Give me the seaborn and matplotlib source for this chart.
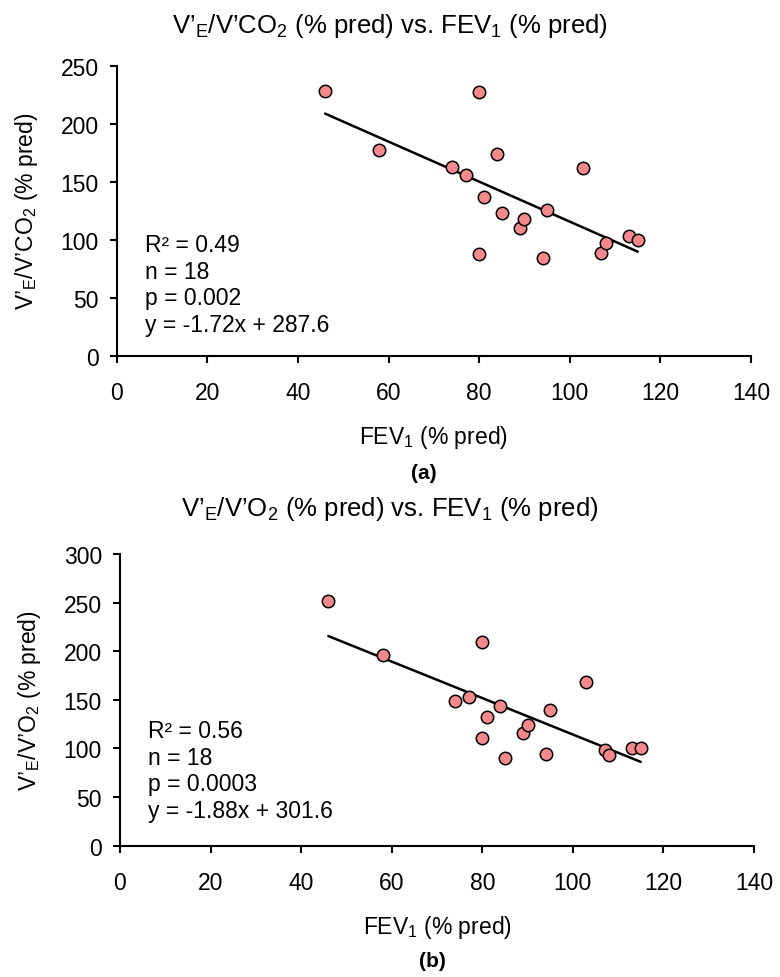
import matplotlib
matplotlib.use("Agg")
import matplotlib.pyplot as plt
import seaborn as sns
import pandas as pd

# ---- data ----
fev1 = [46, 58, 74, 77, 80, 80, 81, 84, 85, 89, 90, 94, 95, 103, 107, 108, 113, 115]
ve_vco2 = [228, 177, 163, 156, 227, 88, 137, 174, 123, 110, 117.5, 84, 126, 162, 88.5, 97.5, 103, 100]
ve_vo2 = [252, 196.6, 148.6, 153.4, 210, 110.7, 132.8, 144, 89.7, 116.2, 123.8, 94.5, 140, 168.6, 98, 93.1, 100.3, 100.3]

x_ticks = [0, 20, 40, 60, 80, 100, 120, 140]
y_ticks_a = [0, 50, 100, 150, 200, 250]
y_ticks_b = [0, 50, 100, 150, 200, 250, 300]

title_a = "V’$\\mathregular{_E}$/V’CO$\\mathregular{_2}$ (% pred) vs. FEV$\\mathregular{_1}$ (% pred)"
title_b = "V’$\\mathregular{_E}$/V’O$\\mathregular{_2}$ (% pred) vs. FEV$\\mathregular{_1}$ (% pred)"
ylabel_a = "V’$\\mathregular{_E}$/V’CO$\\mathregular{_2}$ (% pred)"
ylabel_b = "V’$\\mathregular{_E}$/V’O$\\mathregular{_2}$ (% pred)"
xlabel = "FEV$\\mathregular{_1}$ (% pred)"
stats_a = ["R² = 0.49", "n = 18", "p = 0.002", "y = -1.72x + 287.6"]
stats_b = ["R² = 0.56", "n = 18", "p = 0.0003", "y = -1.88x + 301.6"]
panel_a = "(a)"
panel_b = "(b)"

df = pd.DataFrame({"fev1": fev1, "vco2": ve_vco2, "vo2": ve_vo2})

sns.set_theme(style="white")
plt.rcParams["font.family"] = ["Liberation Sans", "DejaVu Sans"]
plt.rcParams["mathtext.fontset"] = "custom"
plt.rcParams["mathtext.rm"] = "Liberation Sans"

W, H = 780, 978
fig = plt.figure(figsize=(W / 100, H / 100), dpi=100)

def fx(px):
    return px / W

def fy(py):
    return 1 - py / H

ax_a = fig.add_axes([fx(116.7), fy(356.7), fx(751 - 116.7), (356.7 - 66.7) / H])
ax_b = fig.add_axes([fx(120), fy(846.7), fx(754 - 120), (846.7 - 555) / H])

marker_color = "#F4898B"
TICK_FS = 16.5
LABEL_FS = 16.5
STAT_FS = 16.5

def draw(ax, ycol, yticks, ylabel, stats, stat_pos):
    sns.regplot(data=df, x="fev1", y=ycol, ax=ax, ci=None, color=marker_color,
                scatter_kws={"s": 80, "edgecolor": "black", "linewidths": 1.1, "alpha": 1, "zorder": 3},
                line_kws={"color": "black", "linewidth": 1.8, "zorder": 2})
    ax.set_xlim(0, 140)
    ax.set_ylim(yticks[0], yticks[-1])
    ax.set_xticks(x_ticks)
    ax.set_yticks(yticks)
    for s in ["top", "right"]:
        ax.spines[s].set_visible(False)
    for s in ["left", "bottom"]:
        ax.spines[s].set_color("black")
        ax.spines[s].set_linewidth(1.5)
    ax.tick_params(axis="both", direction="out", length=5, width=1.5, color="black",
                   labelsize=TICK_FS, labelcolor="black", bottom=True, left=True)
    ax.tick_params(axis="x", pad=13)
    ax.tick_params(axis="y", pad=8)
    ax.set_xlabel(xlabel, fontsize=LABEL_FS, color="black")
    ax.set_ylabel(ylabel, fontsize=LABEL_FS, color="black")
    ax.xaxis.set_label_coords(0.5, -0.232)
    ax.yaxis.set_label_coords(-0.121, 0.5)
    ax.text(stat_pos[0], stat_pos[1], "\n".join(stats), transform=ax.transAxes,
            ha="left", va="center", fontsize=STAT_FS, linespacing=1.2, color="black")
    ax.set_facecolor("white")

draw(ax_a, "vco2", y_ticks_a, ylabel_a, stats_a, (0.045, 0.245))
draw(ax_b, "vo2", y_ticks_b, ylabel_b, stats_b, (0.044, 0.258))

fig.text(0.5, fy(26), title_a, ha="center", va="center", fontsize=18.5, color="black")
fig.text(0.5, fy(509), title_b, ha="center", va="center", fontsize=18.5, color="black")
fig.text(fx(424), fy(474), panel_a, ha="center", va="center", fontsize=15, fontweight="bold", color="black")
fig.text(fx(432), fy(962), panel_b, ha="center", va="center", fontsize=15, fontweight="bold", color="black")

fig.savefig("out.png", dpi=100, facecolor="white")
